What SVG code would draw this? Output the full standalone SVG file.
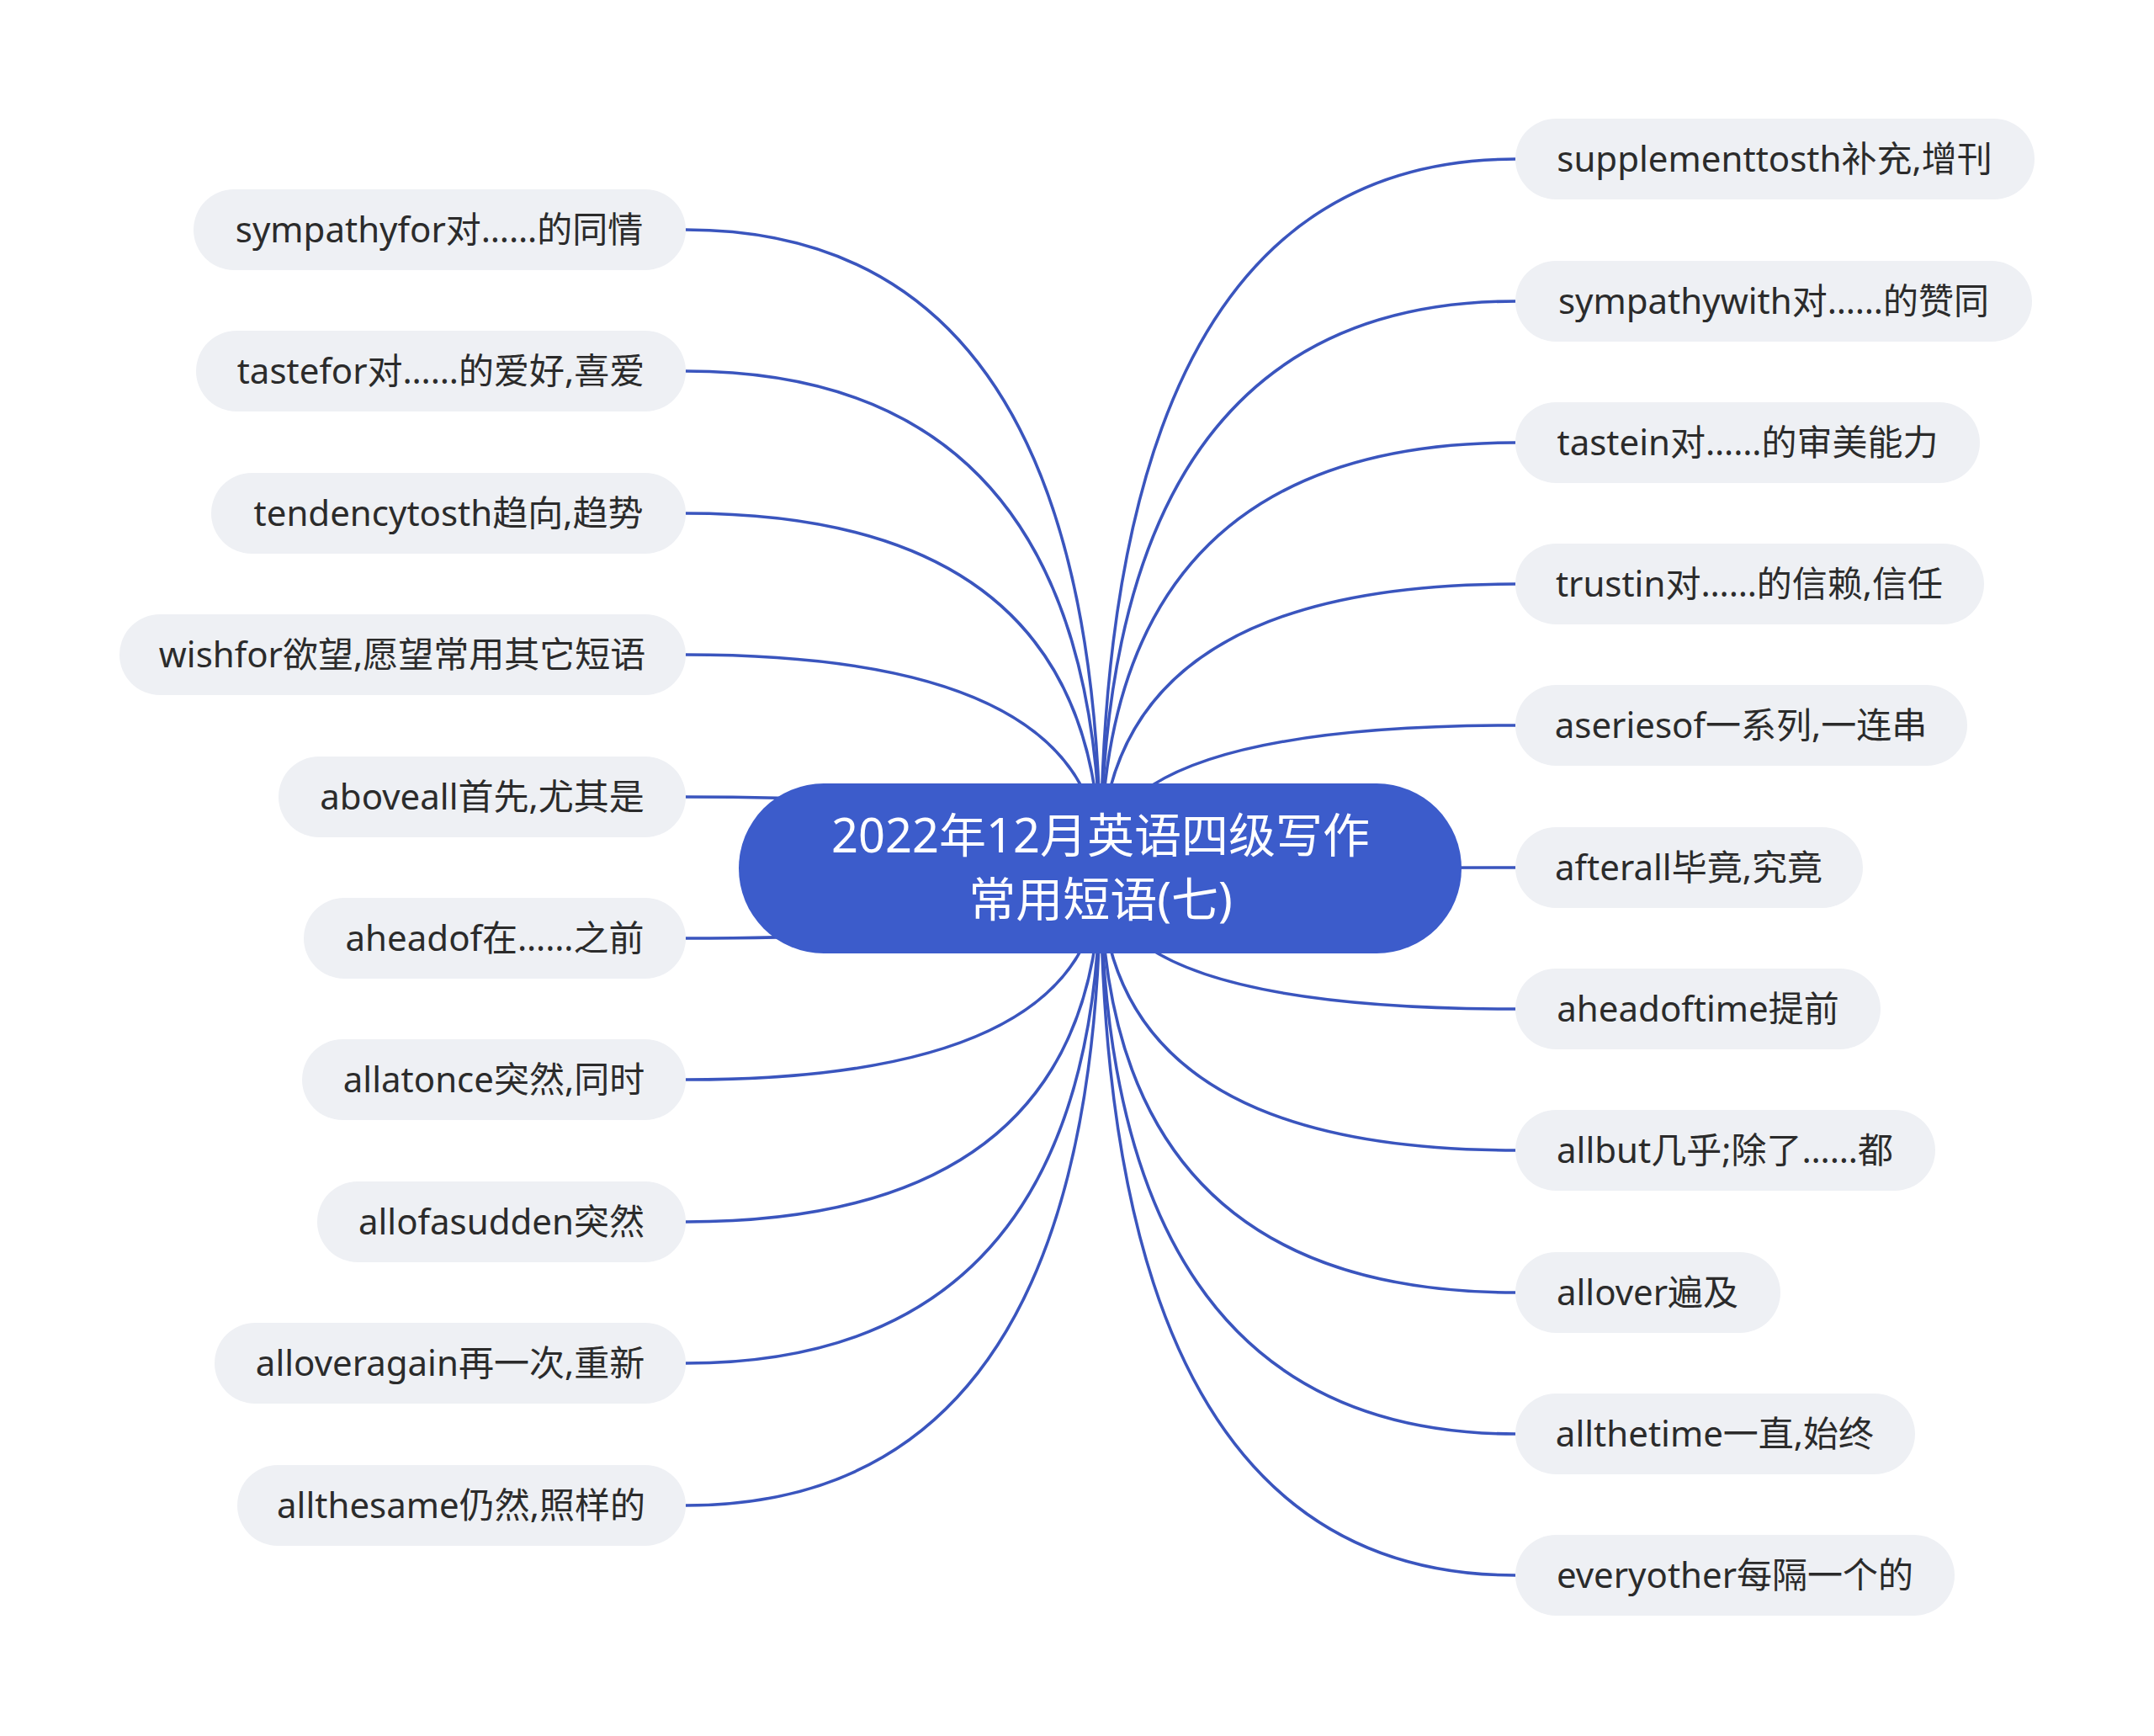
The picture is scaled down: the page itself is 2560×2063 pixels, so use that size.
<svg xmlns="http://www.w3.org/2000/svg" width="2560" height="2063" viewBox="0 0 2560 2063">
<style>
.bg{fill:#ffffff}
.leaf rect{fill:#eef0f4}
.leaf text{font-family:"Noto Sans","Noto Sans CJK SC",sans-serif;font-size:42px;fill:#2b2b2b;text-anchor:middle}
.root rect{fill:#3c5ccb}
.root text{font-family:"Noto Sans","Noto Sans CJK SC",sans-serif;font-size:56px;fill:#ffffff;text-anchor:middle}
.conn path{fill:none;stroke:#3a55be;stroke-width:3.5}
</style>
<rect class="bg" x="0" y="0" width="2560" height="2063"/>
<g id="connectors" class="conn">
<path d="M1308 1032 Q1308 273 815 273"/>
<path d="M1308 1032 Q1308 441 815 441"/>
<path d="M1308 1032 Q1308 610 815 610"/>
<path d="M1308 1032 Q1308 778 815 778"/>
<path d="M1308 1032 Q1308 947 815 947"/>
<path d="M1308 1032 Q1308 1115 815 1115"/>
<path d="M1308 1032 Q1308 1283 815 1283"/>
<path d="M1308 1032 Q1308 1452 815 1452"/>
<path d="M1308 1032 Q1308 1620 815 1620"/>
<path d="M1308 1032 Q1308 1789 815 1789"/>
<path d="M1308 1032 Q1308 189 1801 189"/>
<path d="M1308 1032 Q1308 358 1801 358"/>
<path d="M1308 1032 Q1308 526 1801 526"/>
<path d="M1308 1032 Q1308 694 1801 694"/>
<path d="M1308 1032 Q1308 862 1801 862"/>
<path d="M1308 1032 Q1308 1031 1801 1031"/>
<path d="M1308 1032 Q1308 1199 1801 1199"/>
<path d="M1308 1032 Q1308 1367 1801 1367"/>
<path d="M1308 1032 Q1308 1536 1801 1536"/>
<path d="M1308 1032 Q1308 1704 1801 1704"/>
<path d="M1308 1032 Q1308 1872 1801 1872"/>
</g>
<g id="root" class="root">
<rect x="878" y="931" width="859" height="202" rx="101"/>
<text x="1308" y="1013">2022年12月英语四级写作</text>
<text x="1308" y="1089">常用短语(七)</text>
</g>
<g id="n-l1" class="leaf"><rect x="230" y="225" width="585" height="96" rx="48"/><text x="522" y="288">sympathyfor对……的同情</text></g>
<g id="n-l2" class="leaf"><rect x="233" y="393" width="582" height="96" rx="48"/><text x="524" y="456">tastefor对……的爱好,喜爱</text></g>
<g id="n-l3" class="leaf"><rect x="251" y="562" width="564" height="96" rx="48"/><text x="533" y="625">tendencytosth趋向,趋势</text></g>
<g id="n-l4" class="leaf"><rect x="142" y="730" width="673" height="96" rx="48"/><text x="478" y="793">wishfor欲望,愿望常用其它短语</text></g>
<g id="n-l5" class="leaf"><rect x="331" y="899" width="484" height="96" rx="48"/><text x="573" y="962">aboveall首先,尤其是</text></g>
<g id="n-l6" class="leaf"><rect x="361" y="1067" width="454" height="96" rx="48"/><text x="588" y="1130">aheadof在……之前</text></g>
<g id="n-l7" class="leaf"><rect x="359" y="1235" width="456" height="96" rx="48"/><text x="587" y="1298">allatonce突然,同时</text></g>
<g id="n-l8" class="leaf"><rect x="377" y="1404" width="438" height="96" rx="48"/><text x="596" y="1467">allofasudden突然</text></g>
<g id="n-l9" class="leaf"><rect x="255" y="1572" width="560" height="96" rx="48"/><text x="535" y="1635">alloveragain再一次,重新</text></g>
<g id="n-l10" class="leaf"><rect x="282" y="1741" width="533" height="96" rx="48"/><text x="548" y="1804">allthesame仍然,照样的</text></g>
<g id="n-r1" class="leaf"><rect x="1801" y="141" width="617" height="96" rx="48"/><text x="2109" y="204">supplementtosth补充,增刊</text></g>
<g id="n-r2" class="leaf"><rect x="1801" y="310" width="614" height="96" rx="48"/><text x="2108" y="373">sympathywith对……的赞同</text></g>
<g id="n-r3" class="leaf"><rect x="1801" y="478" width="552" height="96" rx="48"/><text x="2077" y="541">tastein对……的审美能力</text></g>
<g id="n-r4" class="leaf"><rect x="1801" y="646" width="557" height="96" rx="48"/><text x="2079" y="709">trustin对……的信赖,信任</text></g>
<g id="n-r5" class="leaf"><rect x="1801" y="814" width="537" height="96" rx="48"/><text x="2069" y="877">aseriesof一系列,一连串</text></g>
<g id="n-r6" class="leaf"><rect x="1801" y="983" width="413" height="96" rx="48"/><text x="2007" y="1046">afterall毕竟,究竟</text></g>
<g id="n-r7" class="leaf"><rect x="1801" y="1151" width="434" height="96" rx="48"/><text x="2018" y="1214">aheadoftime提前</text></g>
<g id="n-r8" class="leaf"><rect x="1801" y="1319" width="499" height="96" rx="48"/><text x="2050" y="1382">allbut几乎;除了……都</text></g>
<g id="n-r9" class="leaf"><rect x="1801" y="1488" width="315" height="96" rx="48"/><text x="1958" y="1551">allover遍及</text></g>
<g id="n-r10" class="leaf"><rect x="1801" y="1656" width="475" height="96" rx="48"/><text x="2038" y="1719">allthetime一直,始终</text></g>
<g id="n-r11" class="leaf"><rect x="1801" y="1824" width="522" height="96" rx="48"/><text x="2062" y="1887">everyother每隔一个的</text></g>
</svg>
